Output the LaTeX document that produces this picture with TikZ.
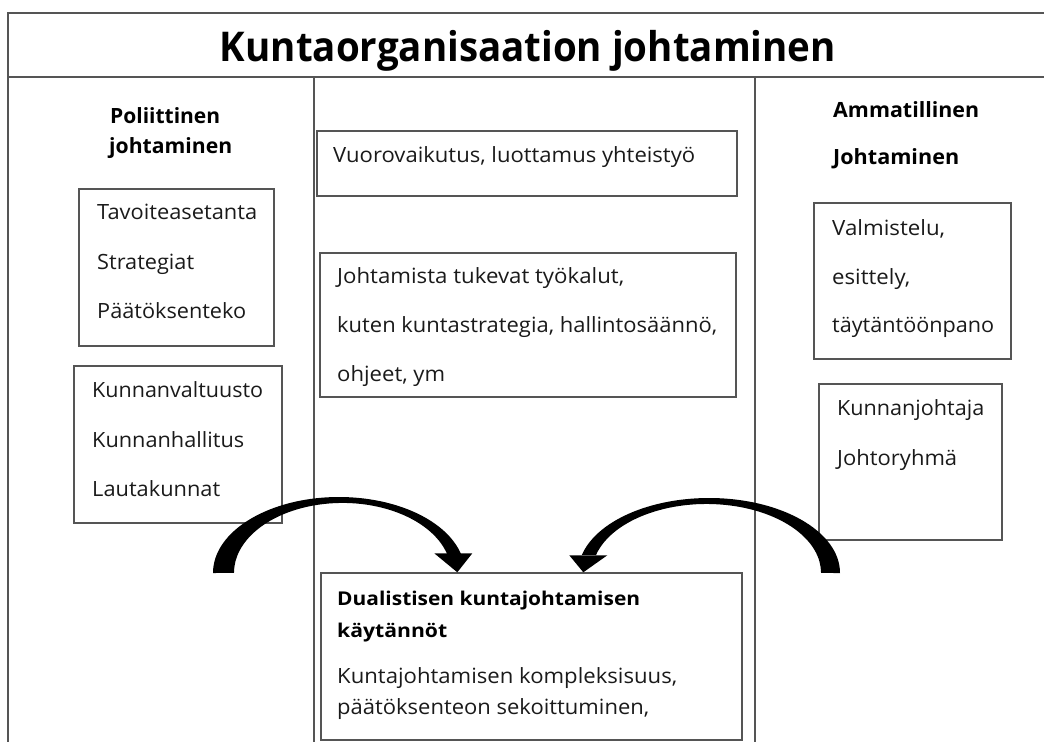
\documentclass[tikz,border=0pt]{standalone}
\usepackage{fontspec}
\usepackage{graphicx}
\setmainfont{Open Sans}
\usetikzlibrary{calc}
\definecolor{rulegray}{HTML}{555555}
\definecolor{ink}{HTML}{1A1A1A}
% set a line of text to a given width (in pt) without changing its height
\newcommand{\fitw}[2]{\resizebox{#1pt}{\height}{#2}}

\begin{document}
\begin{tikzpicture}[x=1pt,y=-1pt,
  frame/.style={draw=rulegray, line width=1.5pt},
  box/.style={draw=rulegray, line width=1.4pt, inner sep=0pt, fill=none},
  txt/.style={anchor=base west, inner sep=0pt, text=ink, font=\fontsize{21}{25}\selectfont},
  headtxt/.style={txt, text=black, font=\fontsize{21}{25}\selectfont\bfseries},
  smallhead/.style={txt, text=black, font=\fontsize{19}{23}\selectfont\bfseries},
  arrowfill/.style={fill=black, draw=none}]
\useasboundingbox (0,0) rectangle (1044,742);

% outer frame, title band and column rules
\draw[frame] (1044,13) -- (8,13) -- (8,742);
\draw[frame] (8,77) -- (1044,77);
\draw[frame] (314,77) -- (314,742);
\draw[frame] (755,77) -- (755,742);

% title
\node[anchor=base, inner sep=0pt, text=black, font=\fontsize{41}{48}\selectfont\bfseries]
  (title) at (528,61) {\fitw{616}{Kuntaorganisaation johtaminen}};

% left column: political leadership
\node[headtxt] (polh1) at (110,123) {\fitw{110}{Poliittinen}};
\node[headtxt] (polh2) at (109,153) {\fitw{123}{johtaminen}};
\node[box, minimum width=195pt, minimum height=157pt] (polA) at (176.5,267.5) {};
\node[txt] (polA1) at (97,219) {\fitw{160}{Tavoiteasetanta}};
\node[txt] (polA2) at (97,269) {\fitw{97}{Strategiat}};
\node[txt] (polA3) at (97,318) {\fitw{149}{Päätöksenteko}};
\node[box, minimum width=208pt, minimum height=157pt] (polB) at (178,444.5) {};
\node[txt] (polB1) at (92,397) {\fitw{171}{Kunnanvaltuusto}};
\node[txt] (polB2) at (92,447) {\fitw{152}{Kunnanhallitus}};
\node[txt] (polB3) at (92,496) {\fitw{128}{Lautakunnat}};

% centre column
\node[box, minimum width=420pt, minimum height=65pt] (midC) at (527,163.5) {};
\node[txt] (midC1) at (333,162) {\fitw{362}{Vuorovaikutus, luottamus yhteistyö}};
\node[box, minimum width=416pt, minimum height=144pt] (midD) at (528,325) {};
\node[txt] (midD1) at (337,283) {\fitw{287}{Johtamista tukevat työkalut,}};
\node[txt] (midD2) at (337,332) {\fitw{380}{kuten kuntastrategia, hallintosäännö,}};
\node[txt] (midD3) at (337,381) {\fitw{108}{ohjeet, ym}};

% right column: professional leadership
\node[headtxt] (proh1) at (833,117) {\fitw{146}{Ammatillinen}};
\node[headtxt] (proh2) at (833,164) {\fitw{126}{Johtaminen}};
\node[box, minimum width=197pt, minimum height=156pt] (proE) at (912.5,281) {};
\node[txt] (proE1) at (832,235) {\fitw{113}{Valmistelu,}};
\node[txt] (proE2) at (832,284) {\fitw{78}{esittely,}};
\node[txt] (proE3) at (832,332) {\fitw{162}{täytäntöönpano}};
\node[box, minimum width=183pt, minimum height=156pt] (proF) at (910.5,462) {};
\node[txt] (proF1) at (837,415) {\fitw{147}{Kunnanjohtaja}};
\node[txt] (proF2) at (837,465) {\fitw{120}{Johtoryhmä}};

% dual leadership practices
\node[box, minimum width=421pt, minimum height=167pt] (dual) at (531.5,656.5) {};
\node[smallhead] (dual1) at (337,605) {\fitw{303}{Dualistisen kuntajohtamisen}};
\node[smallhead] (dual2) at (337,637) {\fitw{110}{käytännöt}};
\node[txt] (dual3) at (337,683) {\fitw{340}{Kuntajohtamisen kompleksisuus,}};
\node[txt] (dual4) at (337,714) {\fitw{312}{päätöksenteon sekoittuminen,}};

% curved arrows into the practices box
\coordinate (tailL) at (213,573);
\coordinate (tipL) at ($(dual.north west)+(137,0)$);
\coordinate (tailR) at (840,573);
\coordinate (tipR) at ($(dual.north west)+(263,0)$);

\fill[arrowfill] (tailL) arc[start angle=180, end angle=345.5, x radius=126, y radius=76]
  -- (447.1,554) arc[start angle=344.3, end angle=180, x radius=108.6, y radius=70] -- cycle;
\fill[arrowfill] (tipL) -- ++(-23,-19) -- ++(38,0) -- cycle;

\fill[arrowfill] (tailR) arc[start angle=0, end angle=-166, x radius=131, y radius=75]
  -- (596,555) arc[start angle=-164.9, end angle=0, x radius=114.5, y radius=69] -- cycle;
\fill[arrowfill] (tipR) -- ++(-14,-17) -- ++(38,0) -- cycle;
\end{tikzpicture}
\end{document}
